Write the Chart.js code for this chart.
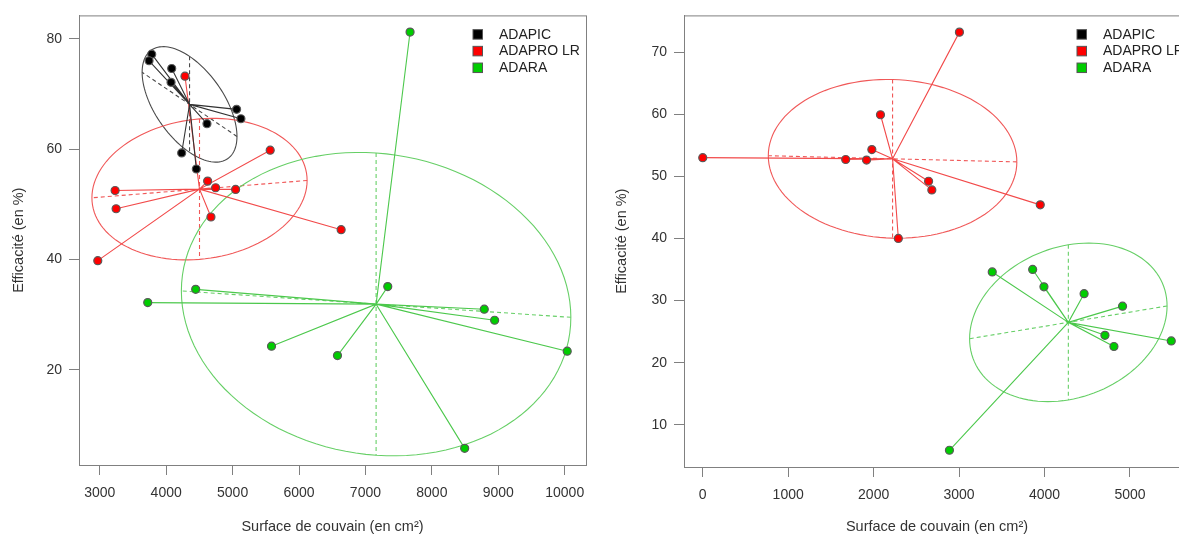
<!DOCTYPE html>
<html>
<head>
<meta charset="utf-8">
<script src="https://cdn.jsdelivr.net/npm/chart.js@4.4.0/dist/chart.umd.min.js"></script>
<style>
  html, body { margin: 0; padding: 0; background: #fff; overflow: hidden; }
  #wrap { position: relative; width: 1179px; height: 536px; overflow: hidden; }
  .panel { position: absolute; top: 0; width: 600px; height: 536px; }
  #p1 { left: 0; }
  #p2 { left: 600px; }
</style>
</head>
<body>
<div id="wrap">
  <div class="panel" id="p1"><canvas id="left" width="600" height="536"></canvas></div>
  <div class="panel" id="p2"><canvas id="right" width="600" height="536"></canvas></div>
</div>
<script>
const groups = ['ADAPIC', 'ADAPRO LR', 'ADARA'];
const groupColors = ['#000000', '#ff0000', '#00cd00'];
const lineColors = ['#333333', '#f24a4a', '#4cc84c'];
const ellipseColors = ['#4a4a4a', '#f05858', '#66cf66'];

// left panel: surface (cm²) / efficacité (%)
const adapicSurf1 = [3782, 3742, 4083, 4073, 5060, 5125, 4614, 4233, 4454];
const adapicEff1 = [77.2, 76.0, 74.6, 72.1, 67.2, 65.5, 64.6, 59.3, 56.4];
const adaproSurf1 = [4283, 5566, 4624, 4744, 5045, 3231, 3246, 4674, 6634, 2970];
const adaproEff1 = [73.2, 59.8, 54.2, 53.0, 52.7, 52.5, 49.2, 47.7, 45.4, 39.8];
const adaraSurf1 = [7672, 7336, 4444, 3722, 8789, 8945, 10038, 5586, 6579, 8494];
const adaraEff1 = [81.2, 35.1, 34.6, 32.2, 31.0, 29.0, 23.4, 24.3, 22.6, 5.8];

// right panel
const adaproSurf2 = [3004, 2080, 1979, 0, 1673, 1917, 2643, 2681, 3950, 2289];
const adaproEff2 = [73.2, 59.9, 54.3, 53.0, 52.7, 52.6, 49.2, 47.8, 45.4, 40.0];
const adaraSurf2 = [3388, 3861, 3993, 4463, 4913, 4707, 4812, 5483, 2887];
const adaraEff2 = [34.6, 35.0, 32.2, 31.1, 29.1, 24.4, 22.6, 23.5, 5.9];

const xTicks1 = [3000, 4000, 5000, 6000, 7000, 8000, 9000, 10000];
const yTicks1 = [20, 40, 60, 80];
const xTicks2 = [0, 1000, 2000, 3000, 4000, 5000];
const yTicks2 = [10, 20, 30, 40, 50, 60, 70];

const xTitle = 'Surface de couvain (en cm²)';
const yTitle = 'Efficacité (en %)';

Chart.defaults.font.family = '"Liberation Sans", Arial, sans-serif';
Chart.defaults.color = '#333';

const mean = a => a.reduce((s, v) => s + v, 0) / a.length;

// same 4% padding as base R
function rangeOf(vals) {
  const lo = Math.min(...vals), hi = Math.max(...vals), r = hi - lo;
  return [lo - 0.04 * r, hi + 0.04 * r];
}

// ellipse of inertia like ade4 s.class (cellipse = 1.5)
function ellipseOf(xs, ys, coeff) {
  const n = xs.length, mx = mean(xs), my = mean(ys);
  let vx = 0, vy = 0, cxy = 0;
  for (let i = 0; i < n; i++) {
    const dx = xs[i] - mx, dy = ys[i] - my;
    vx += dx * dx / n; vy += dy * dy / n; cxy += dx * dy / n;
  }
  const delta = Math.sqrt((vx - vy) * (vx - vy) + 4 * cxy * cxy);
  let l1 = (vx + vy + delta) / 2, l2 = Math.max(0, vx + vy - l1);
  let a0, b0;
  if (Math.abs(cxy) < 1e-10) { a0 = vx > vy ? 1 : 0; b0 = vx > vy ? 0 : 1; }
  else { a0 = 1; b0 = (l1 - vx) / cxy; const nn = Math.hypot(a0, b0); a0 /= nn; b0 /= nn; }
  l1 = Math.sqrt(l1); l2 = Math.sqrt(l2);
  return { mx, my, c11: coeff * a0 * l1, c12: -coeff * b0 * l2, c21: coeff * b0 * l1, c22: coeff * a0 * l2 };
}

const ellipsePlugin = {
  id: 'ellipses',
  beforeDatasetsDraw(chart, args, opts) {
    const { ctx, chartArea: a } = chart;
    const sx = chart.scales.x, sy = chart.scales.y;
    ctx.save();
    ctx.beginPath(); ctx.rect(a.left, a.top, a.right - a.left, a.bottom - a.top); ctx.clip();
    opts.groups.forEach(g => {
      const e = ellipseOf(g.xs, g.ys, 1.5);
      const at = t => [sx.getPixelForValue(e.mx + e.c11 * Math.cos(t) + e.c12 * Math.sin(t)),
                       sy.getPixelForValue(e.my + e.c21 * Math.cos(t) + e.c22 * Math.sin(t))];
      ctx.strokeStyle = ellipseColors[g.idx];
      ctx.lineWidth = 1.1;
      ctx.setLineDash([]);
      ctx.beginPath();
      for (let i = 0; i <= 120; i++) {
        const p = at(i / 120 * 2 * Math.PI);
        i ? ctx.lineTo(p[0], p[1]) : ctx.moveTo(p[0], p[1]);
      }
      ctx.stroke();
      ctx.setLineDash([4, 3]);
      [[0, Math.PI], [Math.PI / 2, 3 * Math.PI / 2]].forEach(([t1, t2]) => {
        const p = at(t1), q = at(t2);
        ctx.beginPath(); ctx.moveTo(p[0], p[1]); ctx.lineTo(q[0], q[1]); ctx.stroke();
      });
    });
    ctx.restore();
  },
  afterDraw(chart) {
    const { ctx, chartArea: a } = chart;
    ctx.save();
    // box
    ctx.strokeStyle = '#808080';
    ctx.lineWidth = 1;
    ctx.strokeRect(a.left + 0.5, a.top + 0.5, a.right - a.left, a.bottom - a.top);
    // legend
    ctx.font = '14px "Liberation Sans", Arial, sans-serif';
    ctx.textBaseline = 'middle';
    groups.forEach((name, i) => {
      const x = a.right - 113, y = a.top + 19 + i * 16.7;
      ctx.fillStyle = groupColors[i];
      ctx.fillRect(x, y - 4.75, 9.5, 9.5);
      ctx.strokeStyle = '#555';
      ctx.strokeRect(x, y - 4.75, 9.5, 9.5);
      ctx.fillStyle = '#222';
      ctx.fillText(name, x + 26, y + 0.5);
    });
    ctx.restore();
  }
};

function makeChart(id, grp, xTicks, yTicks, lay) {
  const datasets = [];
  grp.forEach(g => {
    const cx = mean(g.xs), cy = mean(g.ys);
    const star = [];
    g.xs.forEach((x, i) => { star.push({ x: cx, y: cy }, { x, y: g.ys[i] }); });
    datasets.push({
      data: star, showLine: true, pointRadius: 0, borderColor: lineColors[g.idx],
      borderWidth: 1.1, order: 2
    });
    datasets.push({
      data: g.xs.map((x, i) => ({ x, y: g.ys[i] })),
      pointRadius: 4, borderWidth: 1.2, borderColor: '#5a5a5a',
      backgroundColor: groupColors[g.idx], order: 1
    });
  });
  const allX = grp.flatMap(g => g.xs), allY = grp.flatMap(g => g.ys);
  const [x0, x1] = rangeOf(allX), [y0, y1] = rangeOf(allY);
  const axisCommon = {
    type: 'linear',
    grid: { display: true, drawOnChartArea: false, drawTicks: true, tickLength: 10, color: '#808080' },
    border: { display: true, color: '#808080' }
  };
  return new Chart(document.getElementById(id), {
    type: 'scatter',
    data: { datasets },
    options: {
      responsive: false,
      animation: false,
      layout: { padding: { top: lay.top, right: lay.right, left: 0, bottom: 0 } },
      plugins: {
        legend: { display: false }, tooltip: { enabled: false },
        ellipses: { groups: grp }
      },
      scales: {
        x: {
          ...axisCommon, min: x0, max: x1,
          afterBuildTicks: s => { s.ticks = xTicks.map(v => ({ value: v })); },
          afterFit: s => { s.height = lay.xh; },
          ticks: { font: { size: 14 }, color: '#333', padding: 10, maxRotation: 0, autoSkip: false, callback: v => String(v) },
          title: { display: true, text: xTitle, font: { size: 14.5 }, color: '#333', padding: { top: 0, bottom: 0 } }
        },
        y: {
          ...axisCommon, min: y0, max: y1,
          afterBuildTicks: s => { s.ticks = yTicks.map(v => ({ value: v })); },
          afterFit: s => { s.width = lay.yw; },
          ticks: { font: { size: 14 }, color: '#333', padding: 7, autoSkip: false, callback: v => String(v) },
          title: { display: true, text: yTitle, font: { size: 14.5 }, color: '#333', padding: { top: lay.ytp, bottom: 0 } }
        }
      }
    },
    plugins: [ellipsePlugin]
  });
}

makeChart('left', [
  { idx: 0, xs: adapicSurf1, ys: adapicEff1 },
  { idx: 1, xs: adaproSurf1, ys: adaproEff1 },
  { idx: 2, xs: adaraSurf1, ys: adaraEff1 }
], xTicks1, yTicks1, { top: 15, right: 14, xh: 71, yw: 79, ytp: 10.3 });

makeChart('right', [
  { idx: 1, xs: adaproSurf2, ys: adaproEff2 },
  { idx: 2, xs: adaraSurf2, ys: adaraEff2 }
], xTicks2, yTicks2, { top: 14, right: 10, xh: 69, yw: 84, ytp: 13.3 });
</script>
</body>
</html>
